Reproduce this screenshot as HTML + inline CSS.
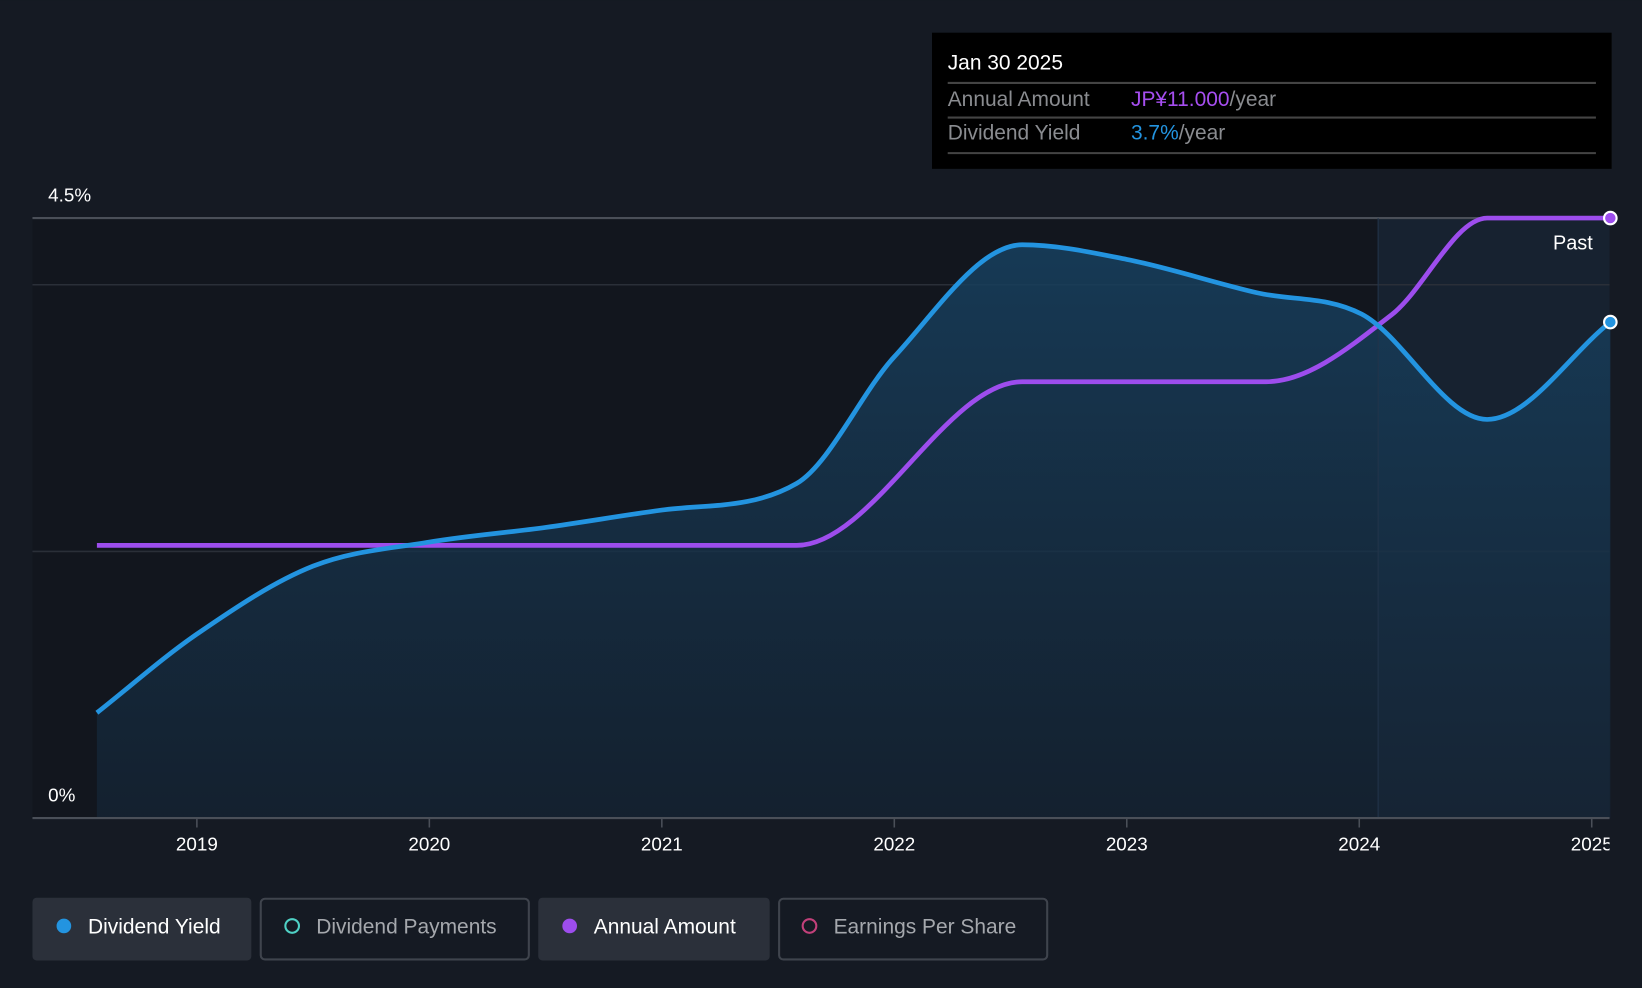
<!DOCTYPE html>
<html><head><meta charset="utf-8"><style>
html,body{margin:0;padding:0;background:#151a23;width:1642px;height:988px;overflow:hidden;font-family:"Liberation Sans",sans-serif;}
svg{display:block}
</style></head><body>
<svg id="chart" width="1642" height="988" viewBox="0 0 1568 943" xmlns="http://www.w3.org/2000/svg">
<defs>
<linearGradient id="fillg" x1="0" y1="0" x2="0" y2="1">
<stop offset="0" stop-color="#17405f" stop-opacity="0.85"/>
<stop offset="1" stop-color="#152536" stop-opacity="0.7"/>
</linearGradient>
<clipPath id="xclip"><rect x="0" y="780" width="1537" height="60"/></clipPath>
</defs>
<rect x="0" y="0" width="1568" height="943" fill="#151a23"/>
<rect x="31" y="208" width="1285" height="573" fill="#12161e"/>
<rect x="1316" y="208" width="221" height="573" fill="#172230"/>
<g id="grid"></g>
<path id="yieldArea" fill="url(#fillg)"/>
<line x1="1316" y1="208" x2="1316" y2="781" stroke="#22344a" stroke-width="1"/>
<path id="amountLine" fill="none" stroke="#9d4ded" stroke-width="4.5"/>
<path id="yieldLine" fill="none" stroke="#2394e0" stroke-width="4.5"/>
<circle id="amountDot" r="6" fill="#9d4ded" stroke="#fff" stroke-width="2"/>
<circle id="yieldDot" r="6" fill="#2394e0" stroke="#fff" stroke-width="2"/>
<text x="1521" y="238" fill="#fff" font-size="19" text-anchor="end">Past</text>
<text x="46" y="192" fill="#fff" font-size="18">4.5%</text>
<text x="46" y="765" fill="#fff" font-size="18">0%</text>
<line x1="31" y1="781" x2="1537" y2="781" stroke="#4a4f58" stroke-width="2"/>
<g id="xticks" clip-path="url(#xclip)"></g>

<g>
<rect x="890" y="31" width="649" height="130" fill="#000"/>
<text x="905" y="66" fill="#fff" font-size="20" font-weight="500">Jan 30 2025</text>
<line x1="905" y1="79" x2="1524" y2="79" stroke="#444" stroke-width="2"/>
<text x="905" y="101" fill="#8a8c90" font-size="20">Annual Amount</text>
<text x="1080" y="101" font-size="20"><tspan fill="#a64ef0">JP¥11.000</tspan><tspan fill="#8a8c90">/year</tspan></text>
<line x1="905" y1="112" x2="1524" y2="112" stroke="#444" stroke-width="2"/>
<text x="905" y="133" fill="#8a8c90" font-size="20">Dividend Yield</text>
<text x="1080" y="133" font-size="20"><tspan fill="#2394e0">3.7%</tspan><tspan fill="#8a8c90">/year</tspan></text>
<line x1="905" y1="146" x2="1524" y2="146" stroke="#444" stroke-width="2"/>
</g>

<g>
<g>
<rect x="31" y="857" width="209" height="60" rx="4" fill="#2b303a"/>
<circle cx="61" cy="884" r="7" fill="#2394e0"/>
<text x="84" y="891" fill="#fff" font-size="20">Dividend Yield</text></g>
<g>
<rect x="249" y="858" width="256" height="58" rx="4" fill="none" stroke="#3f444d" stroke-width="2"/>
<circle cx="279" cy="884" r="6.5" fill="none" stroke="#4fd1c5" stroke-width="2"/>
<text x="302" y="891" fill="#a5a8ad" font-size="20">Dividend Payments</text></g>
<g>
<rect x="514" y="857" width="221" height="60" rx="4" fill="#2b303a"/>
<circle cx="544" cy="884" r="7" fill="#9d4ded"/>
<text x="567" y="891" fill="#fff" font-size="20">Annual Amount</text></g>
<g>
<rect x="744" y="858" width="256" height="58" rx="4" fill="none" stroke="#3f444d" stroke-width="2"/>
<circle cx="773" cy="884" r="6.5" fill="none" stroke="#c2407a" stroke-width="2"/>
<text x="796" y="891" fill="#a5a8ad" font-size="20">Earnings Per Share</text></g>
</g>
</svg>
<script>
const yieldYears=[2018.57,2019.0,2019.5,2020.0,2020.5,2021.0,2021.58,2022.0,2022.55,2023.0,2023.56,2024.01,2024.55,2025.08];
const yieldValues=[0.79,1.38,1.89,2.07,2.18,2.31,2.51,3.46,4.30,4.19,3.94,3.78,2.99,3.72];
const amountYears=[2018.57,2021.58,2022.55,2023.6,2024.14,2024.55,2025.08];
const amountValues=[5,5,8,8,9.23,11,11];
const yTicks=[2,4,4.5];
const xTickYears=[2019,2020,2021,2022,2023,2024,2025];
const xTickLabels=["2019","2020","2021","2022","2023","2024","2025"];

const NS="http://www.w3.org/2000/svg";
function xScale(yr){return 188+(yr-2019)*222;}
function yPct(p){return 781-p*127.33;}
function yAmt(a){return 781-a*(573/11);}
function monotone(px,py){
 const n=px.length,d=[],m=[];
 for(let i=0;i<n-1;i++)d.push((py[i+1]-py[i])/(px[i+1]-px[i]));
 m[0]=d[0];m[n-1]=d[n-2];
 for(let i=1;i<n-1;i++){m[i]=(d[i-1]*d[i]<=0)?0:(d[i-1]+d[i])/2;}
 for(let i=0;i<n-1;i++){if(d[i]===0){m[i]=0;m[i+1]=0;}else{const a=m[i]/d[i],b=m[i+1]/d[i],s=a*a+b*b;if(s>9){const t=3/Math.sqrt(s);m[i]=t*a*d[i];m[i+1]=t*b*d[i];}}}
 let s="M"+px[0]+","+py[0];
 for(let i=0;i<n-1;i++){const h=(px[i+1]-px[i])/3;s+=" C"+(px[i]+h)+","+(py[i]+m[i]*h)+" "+(px[i+1]-h)+","+(py[i+1]-m[i+1]*h)+" "+px[i+1]+","+py[i+1];}
 return s;}
const yx=yieldYears.map(xScale),yy=yieldValues.map(yPct);
const yp=monotone(yx,yy);
document.getElementById('yieldLine').setAttribute('d',yp);
document.getElementById('yieldArea').setAttribute('d',yp+" L"+yx[yx.length-1]+",781 L"+yx[0]+",781 Z");
const ax=amountYears.map(xScale),ay=amountValues.map(yAmt);
document.getElementById('amountLine').setAttribute('d',monotone(ax,ay));
const yd=document.getElementById('yieldDot');yd.setAttribute('cx',yx[yx.length-1]);yd.setAttribute('cy',yy[yy.length-1]);
const ad=document.getElementById('amountDot');ad.setAttribute('cx',ax[ax.length-1]);ad.setAttribute('cy',ay[ay.length-1]);
const grid=document.getElementById('grid');
yTicks.forEach(t=>{const l=document.createElementNS(NS,'line');


l.setAttribute('x1',31);l.setAttribute('x2',1537);l.setAttribute('y1',yPct(t));l.setAttribute('y2',yPct(t));
l.setAttribute('stroke',t===4.5?'#4a4f58':'#2a2f38');l.setAttribute('stroke-width',t===4.5?2:1.5);grid.appendChild(l);});
const xt=document.getElementById('xticks');
xTickYears.forEach((yr,i)=>{const x=xScale(yr);
const l=document.createElementNS(NS,'line');


l.setAttribute('x1',x);l.setAttribute('x2',x);l.setAttribute('y1',781);l.setAttribute('y2',790);l.setAttribute('stroke','#4a4f58');l.setAttribute('stroke-width',1.5);xt.appendChild(l);
const t=document.createElementNS(NS,'text');


t.setAttribute('x',x);t.setAttribute('y',812);t.setAttribute('fill','#fff');t.setAttribute('font-size','18');t.setAttribute('text-anchor','middle');t.textContent=xTickLabels[i];xt.appendChild(t);});
</script>
</body></html>
